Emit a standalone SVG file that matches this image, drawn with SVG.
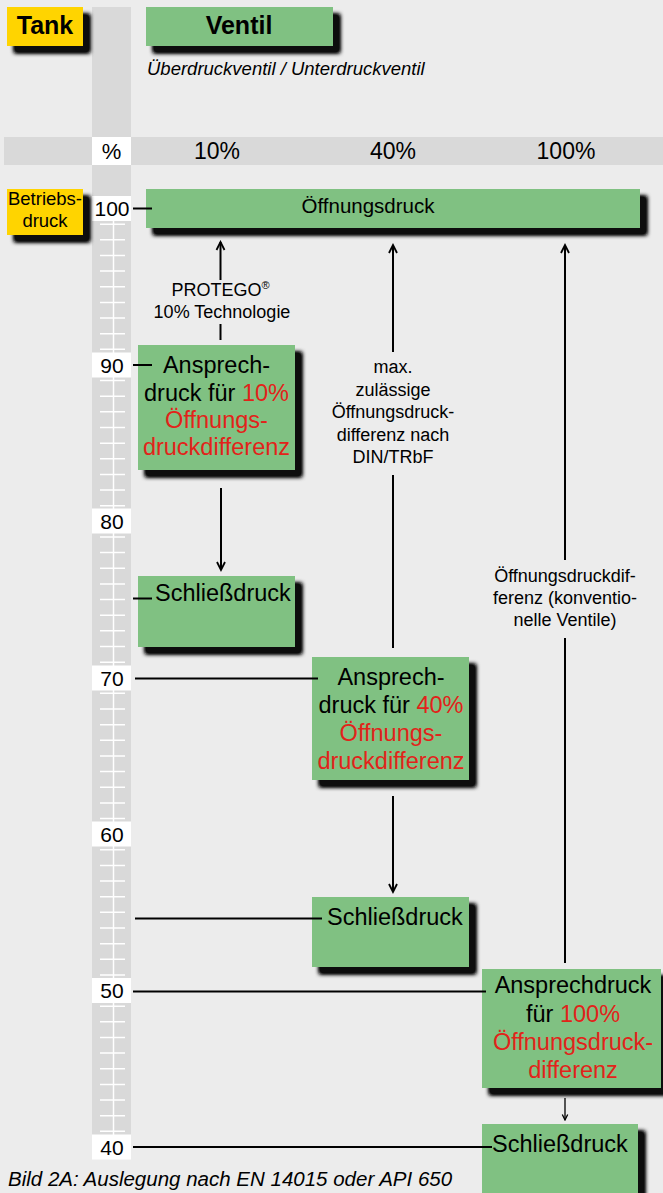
<svg xmlns="http://www.w3.org/2000/svg" width="663" height="1193" viewBox="0 0 663 1193">
  <style>
    text { font-family: "Liberation Sans", Arial, sans-serif; fill: #000; }
    .box { fill: #80c182; }
    .tank { fill: #ffd400; }
    .head { font-size: 25px; font-weight: bold; text-anchor: middle; }
    .num { font-size: 21px; text-anchor: middle; }
    .pct { font-size: 23px; text-anchor: middle; }
    .big { font-size: 23.5px; }
    .mid { text-anchor: middle; }
    .note { font-size: 18px; text-anchor: middle; }
    .red { fill: #e2231a; }
    .cell { fill: #ffffff; }
    .tick { stroke: #ffffff; stroke-width: 1.5; }
    .link { stroke: #000; stroke-width: 2; fill: none; }
  </style>
  <defs>
    <filter id="shadow" x="-10%" y="-20%" width="130%" height="160%">
      <feFlood flood-color="#111111"/>
      <feComposite in2="SourceAlpha" operator="in"/>
      <feGaussianBlur stdDeviation="2.2"/>
      <feOffset dx="7" dy="7"/>
      <feComponentTransfer><feFuncA type="linear" slope="1.6"/></feComponentTransfer>
      <feMerge><feMergeNode/><feMergeNode in="SourceGraphic"/></feMerge>
    </filter>
    <marker id="arr" markerWidth="12" markerHeight="12" refX="10" refY="6" orient="auto" markerUnits="userSpaceOnUse">
      <path d="M2,2 L10,6 L2,10" fill="none" stroke="#000" stroke-width="1.8"/>
    </marker>
    <marker id="arrS" markerWidth="8" markerHeight="8" refX="7" refY="4" orient="auto" markerUnits="userSpaceOnUse">
      <path d="M1.5,1.3 L7,4 L1.5,6.7" fill="none" stroke="#000" stroke-width="1.3"/>
    </marker>
  </defs>

  <!-- background, scale strip and header band -->
  <rect x="0" y="0" width="663" height="1193" fill="#ececec"/>
  <rect x="92" y="7" width="39" height="1151" fill="#d9d9d9"/>
  <rect x="4" y="137" width="659" height="28" fill="#d9d9d9"/>
  <rect class="cell" x="92" y="137" width="39" height="28"/>
  <text x="111.5" y="159" font-size="22" text-anchor="middle">%</text>
  <text class="pct" x="217" y="159">10%</text>
  <text class="pct" x="393" y="159">40%</text>
  <text class="pct" x="566" y="159">100%</text>

  <!-- pressure scale 40..100 -->
  <g id="scale">
    <line class="tick" x1="113.5" y1="221" x2="113.5" y2="1135"/>
    <path class="tick" d="M100,224.15h25M100,239.8h25M100,255.45h25M100,271.1h25M100,286.75h25M100,302.4h25M100,318.05h25M100,333.7h25M100,349.35h25
      M100,380.55h25M100,396.2h25M100,411.85h25M100,427.5h25M100,443.15h25M100,458.8h25M100,474.45h25M100,490.1h25M100,505.75h25
      M100,536.95h25M100,552.6h25M100,568.25h25M100,583.9h25M100,599.55h25M100,615.2h25M100,630.85h25M100,646.5h25M100,662.15h25
      M100,693.35h25M100,709h25M100,724.65h25M100,740.3h25M100,755.95h25M100,771.6h25M100,787.25h25M100,802.9h25M100,818.55h25
      M100,849.75h25M100,865.4h25M100,881.05h25M100,896.7h25M100,912.35h25M100,928h25M100,943.65h25M100,959.3h25M100,974.95h25
      M100,1006.15h25M100,1021.8h25M100,1037.45h25M100,1053.1h25M100,1068.75h25M100,1084.4h25M100,1100.05h25M100,1115.7h25M100,1131.35h25"/>
    <rect class="cell" x="92" y="196" width="39" height="25"/>
    <rect class="cell" x="92" y="352.5" width="39" height="25"/>
    <rect class="cell" x="92" y="508.5" width="39" height="25"/>
    <rect class="cell" x="92" y="665.5" width="39" height="25"/>
    <rect class="cell" x="92" y="821.5" width="39" height="25"/>
    <rect class="cell" x="92" y="978" width="39" height="25"/>
    <rect class="cell" x="92" y="1134.5" width="39" height="25"/>
    <text class="num" x="112" y="216">100</text>
    <text class="num" x="112" y="372.5">90</text>
    <text class="num" x="112" y="528.5">80</text>
    <text class="num" x="112" y="685.5">70</text>
    <text class="num" x="112" y="841.5">60</text>
    <text class="num" x="112" y="998">50</text>
    <text class="num" x="112" y="1154.5">40</text>
  </g>

  <!-- headings -->
  <g id="tank">
    <rect class="tank" x="7" y="7" width="76" height="39" filter="url(#shadow)"/>
    <text class="head" x="45" y="34">Tank</text>
  </g>
  <g id="ventil">
    <rect class="box" x="146" y="7" width="187" height="39" filter="url(#shadow)"/>
    <text class="head" x="239" y="34">Ventil</text>
    <text x="147" y="75" font-size="18.5" font-style="italic">Überdruckventil / Unterdruckventil</text>
  </g>
  <g id="betriebsdruck">
    <rect class="tank" x="7" y="189" width="76" height="46" filter="url(#shadow)"/>
    <text x="45" y="205" font-size="18.5" text-anchor="middle">Betriebs-</text>
    <text x="45" y="227" font-size="18.5" text-anchor="middle">druck</text>
  </g>

  <!-- valve pressure levels -->
  <g id="oeffnungsdruck">
    <rect class="box" x="146" y="189" width="494" height="39" filter="url(#shadow)"/>
    <text x="368" y="213" font-size="20.5" text-anchor="middle">Öffnungsdruck</text>
  </g>
  <g id="ansprech-10">
    <rect class="box" x="138" y="345" width="157" height="125" filter="url(#shadow)"/>
    <text class="big mid" x="216.5" y="373">Ansprech-</text>
    <text class="big mid" x="216.5" y="401">druck für <tspan class="red">10%</tspan></text>
    <text class="big mid red" x="216.5" y="428">Öffnungs-</text>
    <text class="big mid red" x="216.5" y="455">druckdifferenz</text>
  </g>
  <g id="schliess-10">
    <rect class="box" x="138" y="576" width="157" height="71" filter="url(#shadow)"/>
    <text class="big" x="155" y="601">Schließdruck</text>
  </g>
  <g id="ansprech-40">
    <rect class="box" x="312" y="657" width="157" height="123" filter="url(#shadow)"/>
    <text class="big mid" x="391" y="685">Ansprech-</text>
    <text class="big mid" x="391" y="713">druck für <tspan class="red">40%</tspan></text>
    <text class="big mid red" x="391" y="741">Öffnungs-</text>
    <text class="big mid red" x="391" y="769">druckdifferenz</text>
  </g>
  <g id="schliess-40">
    <rect class="box" x="312" y="897" width="157" height="70" filter="url(#shadow)"/>
    <text class="big" x="327" y="925">Schließdruck</text>
  </g>
  <g id="ansprech-100">
    <rect class="box" x="482" y="969" width="179" height="119" filter="url(#shadow)"/>
    <text class="big mid" x="573" y="993">Ansprechdruck</text>
    <text class="big mid" x="573" y="1022">für <tspan class="red">100%</tspan></text>
    <text class="big mid red" x="573" y="1050">Öffnungsdruck-</text>
    <text class="big mid red" x="573" y="1078">differenz</text>
  </g>
  <g id="schliess-100">
    <rect class="box" x="482" y="1124" width="156" height="80" filter="url(#shadow)"/>
    <text class="big" x="492" y="1152">Schließdruck</text>
  </g>

  <!-- annotations on the pressure differences -->
  <g id="note-10">
    <text class="note" x="220.5" y="296">PROTEGO<tspan font-size="11" dy="-7">®</tspan></text>
    <text class="note" x="222" y="318">10% Technologie</text>
  </g>
  <g id="note-40">
    <text class="note" x="393" y="373">max.</text>
    <text class="note" x="393" y="396">zulässige</text>
    <text class="note" x="393" y="418">Öffnungsdruck-</text>
    <text class="note" x="393" y="441">differenz nach</text>
    <text class="note" x="393" y="463">DIN/TRbF</text>
  </g>
  <g id="note-100">
    <text class="note" x="565" y="582">Öffnungsdruckdif-</text>
    <text class="note" x="565" y="604">ferenz (konventio-</text>
    <text class="note" x="565" y="626">nelle Ventile)</text>
  </g>

  <!-- level lines and arrows -->
  <g id="connectors">
    <line class="link" x1="133" y1="208.5" x2="152" y2="208.5"/>
    <line class="link" x1="133" y1="365" x2="152" y2="365"/>
    <line class="link" x1="133" y1="598.5" x2="152" y2="598.5"/>
    <line class="link" x1="135" y1="678.5" x2="318" y2="678.5"/>
    <line class="link" x1="135" y1="918.5" x2="322" y2="918.5"/>
    <line class="link" x1="133" y1="991.5" x2="486" y2="991.5"/>
    <line class="link" x1="133" y1="1147" x2="492" y2="1147"/>

    <line class="link" x1="220.5" y1="280" x2="220.5" y2="242" marker-end="url(#arr)"/>
    <line class="link" x1="220.5" y1="324" x2="220.5" y2="340"/>
    <line class="link" x1="221" y1="488" x2="221" y2="570" marker-end="url(#arr)"/>

    <line class="link" x1="393" y1="352" x2="393" y2="245" marker-end="url(#arr)"/>
    <line class="link" x1="393" y1="475" x2="393" y2="648"/>
    <line class="link" x1="393" y1="796" x2="393" y2="892" marker-end="url(#arr)"/>

    <line class="link" x1="565" y1="560" x2="565" y2="245" marker-end="url(#arr)"/>
    <line class="link" x1="565" y1="638" x2="565" y2="963"/>
    <line x1="565" y1="1098" x2="565" y2="1120" stroke="#000" stroke-width="1.3" marker-end="url(#arrS)"/>
  </g>

  <text x="8" y="1186" font-size="20.5" font-style="italic">Bild 2A: Auslegung nach EN 14015 oder API 650</text>
</svg>
